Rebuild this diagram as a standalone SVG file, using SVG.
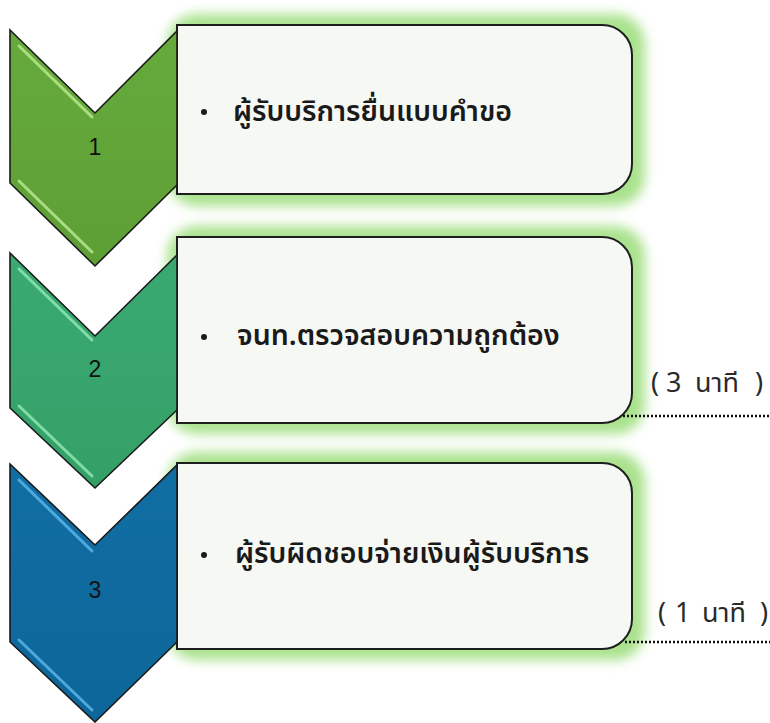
<svg xmlns="http://www.w3.org/2000/svg" width="770" height="723" viewBox="0 0 770 723">
<defs>
<style>
.box{fill:#f6f8f3;stroke:#1e1e1e;stroke-width:2}
.glow{fill:#a9e28c;filter:url(#blur)}
.chev{stroke:#1a1a1a;stroke-width:1.6;stroke-linejoin:miter}
.num{font-family:"Liberation Sans",Arial,sans-serif;font-size:23px;fill:#111;text-anchor:middle}
.lbl{font-family:"Noto Sans Thai","Tahoma","Noto Sans","Liberation Sans",sans-serif;font-size:28.5px;font-weight:600;fill:#1a1a1a}
.time{font-family:"Noto Sans Thai","Tahoma","Noto Sans","Liberation Sans",sans-serif;font-size:27px;fill:#2a2a2a}
.dot{stroke:#111;stroke-width:2.6;stroke-dasharray:2 2;fill:none}
.hl{stroke-width:3;stroke-linecap:round;fill:none;opacity:0.85}
</style>
<filter id="blur" x="-10%" y="-20%" width="120%" height="140%"><feGaussianBlur stdDeviation="6"/></filter>
<linearGradient id="g1" x1="0" y1="0" x2="0" y2="1"><stop offset="0" stop-color="#66aa3c"/><stop offset="1" stop-color="#5e9f35"/></linearGradient>
<linearGradient id="g2" x1="0" y1="0" x2="0" y2="1"><stop offset="0" stop-color="#3aaa72"/><stop offset="1" stop-color="#34a068"/></linearGradient>
<linearGradient id="g3" x1="0" y1="0" x2="0" y2="1"><stop offset="0" stop-color="#116ea3"/><stop offset="1" stop-color="#0c6699"/></linearGradient>
</defs>

<g id="step1">
<rect class="glow" x="167" y="14" width="478" height="192" rx="30"/>
<path class="box" d="M177,25 H602 A30,30 0 0 1 632,55 V164 A30,30 0 0 1 602,194 H177 Z"/>
<path class="chev" fill="url(#g1)" d="M10,30 L95,113 L177,31 V185 L95,266 L10,183 Z"/>
<path class="hl" stroke="#b6e88e" d="M19,46 L92,117"/>
<path class="hl" stroke="#b6e88e" d="M19,181 L92,252"/>
<text class="num" x="95" y="155">1</text>
<circle cx="204" cy="112" r="3" fill="#1a1a1a"/>
<text class="lbl" x="233" y="121">ผู้รับบริการยื่นแบบคำขอ</text>
</g>

<g id="step2">
<rect class="glow" x="167" y="226" width="478" height="208" rx="30"/>
<path class="box" d="M177,237 H602 A30,30 0 0 1 632,267 V393 A30,30 0 0 1 602,423 H177 Z"/>
<path class="chev" fill="url(#g2)" d="M10,253 L95,336 L177,255 V410 L95,488 L10,408 Z"/>
<path class="hl" stroke="#8ee6b0" d="M19,269 L92,340"/>
<path class="hl" stroke="#8ee6b0" d="M19,406 L92,476"/>
<text class="num" x="95" y="377">2</text>
<circle cx="204" cy="337" r="3" fill="#1a1a1a"/>
<text class="lbl" x="237" y="345">จนท.ตรวจสอบความถูกต้อง</text>
</g>

<g id="step3">
<rect class="glow" x="167" y="452" width="478" height="208" rx="30"/>
<path class="box" d="M177,463 H602 A30,30 0 0 1 632,493 V619 A30,30 0 0 1 602,649 H177 Z"/>
<path class="chev" fill="url(#g3)" d="M10,464 L95,545 L177,465 V642 L95,722 L10,642 Z"/>
<path class="hl" stroke="#5ab4e6" d="M19,480 L92,551"/>
<path class="hl" stroke="#5ab4e6" d="M19,640 L92,710"/>
<text class="num" x="95" y="598">3</text>
<circle cx="204" cy="555" r="3" fill="#1a1a1a"/>
<text class="lbl" x="235" y="563">ผู้รับผิดชอบจ่ายเงินผู้รับบริการ</text>
</g>

<g id="connectors">
<line class="dot" x1="623" y1="416" x2="770" y2="416"/>
<line class="dot" x1="625" y1="642" x2="770" y2="642"/>
</g>

<g id="times">
<text class="time" y="392"><tspan x="651">(</tspan><tspan x="666">3</tspan><tspan x="695">นาที</tspan><tspan x="755">)</tspan></text>
<text class="time" y="622"><tspan x="658">(</tspan><tspan x="675">1</tspan><tspan x="702">นาที</tspan><tspan x="760">)</tspan></text>
</g>
</svg>
